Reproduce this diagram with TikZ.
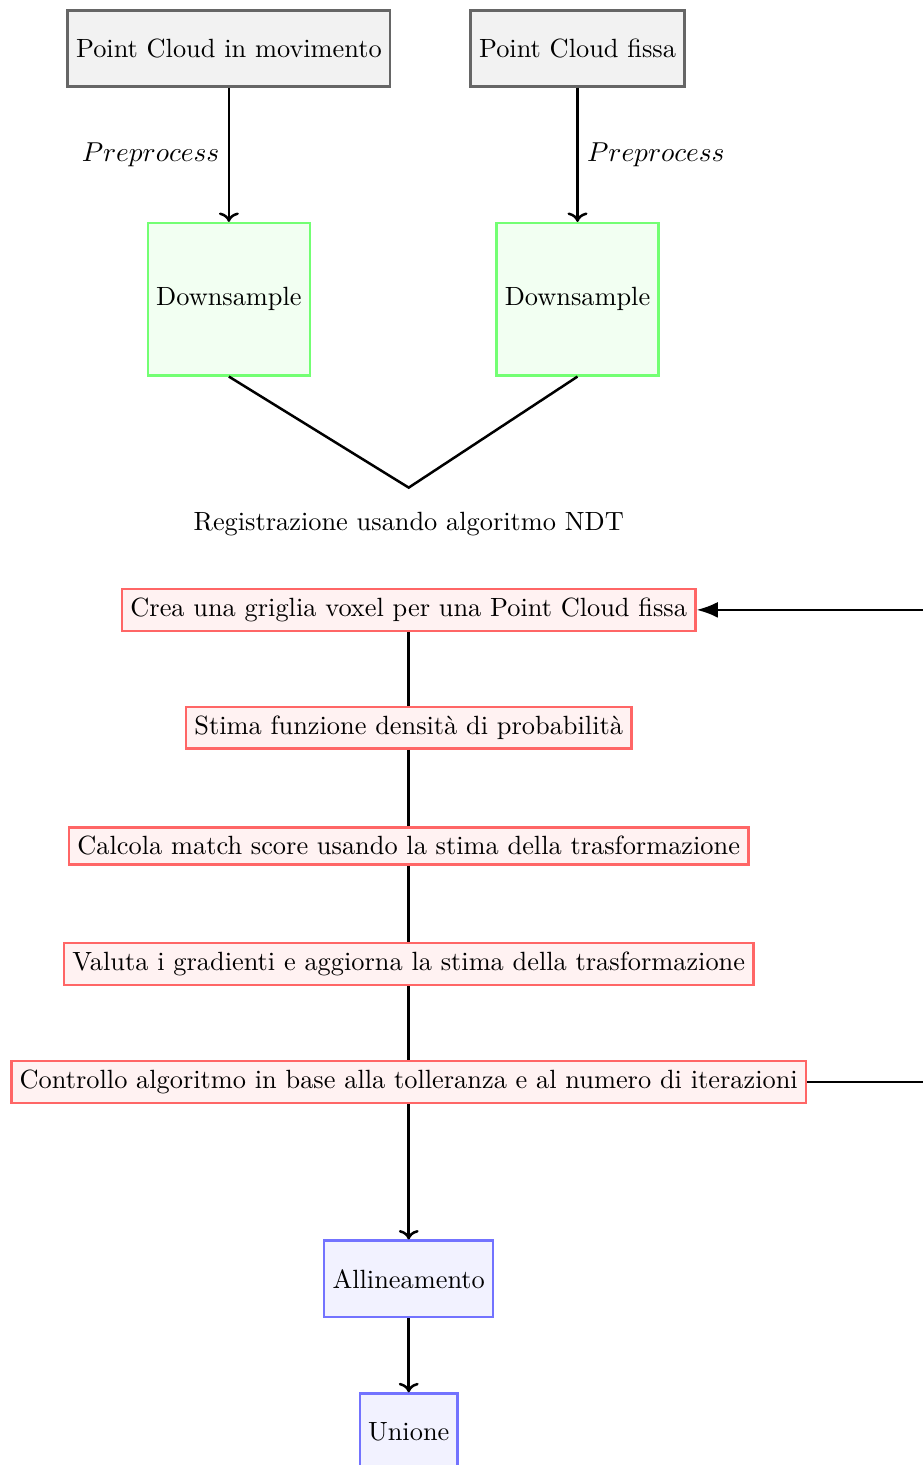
\documentclass[tikz,border=0pt]{standalone}
\usepackage{xcolor}
\usepackage{tikz}
\usetikzlibrary{arrows.meta,positioning}

\begin{document}
\begin{tikzpicture}[node distance=1.66cm, every node/.style={font=\fontsize{10.55}{12.7}\selectfont},
  datobox/.style={draw=black!60,fill=black!5,line width=1pt,rectangle,minimum height=1.07cm},
  campbox/.style={draw=green!55,fill=green!5,line width=1pt,rectangle,minimum height=2.14cm},
  passobox/.style={draw=red!60,fill=red!5,line width=1pt,rectangle,inner ysep=3.6pt},
  finebox/.style={draw=blue!55,fill=blue!5,line width=1pt,rectangle,minimum height=1.07cm},
  freccia/.style={->,line width=1pt}]
\useasboundingbox (-5.75,-12.03) rectangle (7.23,8.58);

\node[datobox] (pcm) at (-2.53,7.9) {Point Cloud in movimento};
\node[datobox,right=1.1cm of pcm] (pcf) {Point Cloud fissa};
\node[campbox,on grid,below=3.53cm of pcm] (ds1) {Downsample};
\node[campbox,on grid,below=3.53cm of pcf] (ds2) {Downsample};

\draw[freccia] (pcm) -- node[midway,left] {$Preprocess$} (ds1);
\draw[freccia] (pcf) -- node[midway,right] {$Preprocess$} (ds2);

\coordinate (reg) at (0,1.72);
\node[below=0.22cm of reg] (regtxt) {Registrazione usando algoritmo NDT};
\draw[line width=1pt] (ds1.south) -- (reg) -- (ds2.south);

\node[passobox] (crea) at (0,0) {Crea una griglia voxel per una Point Cloud fissa};
\node[passobox,on grid,below=of crea] (stima) {Stima funzione densità di probabilità};
\node[passobox,on grid,below=of stima] (calc) {Calcola match score usando la stima della trasformazione};
\node[passobox,on grid,below=of calc] (valuta) {Valuta i gradienti e aggiorna la stima della trasformazione};
\node[passobox,on grid,below=of valuta] (ctrl) {Controllo algoritmo in base alla tolleranza e al numero di iterazioni};
\node[finebox,on grid,below=2.77cm of ctrl] (alli) {Allineamento};
\node[finebox,on grid,below=2.15cm of alli] (unione) {Unione};

\draw[line width=1pt] (crea) -- (stima);
\draw[line width=1pt] (stima) -- (calc);
\draw[line width=1pt] (calc) -- (valuta);
\draw[line width=1pt] (valuta) -- (ctrl);
\draw[freccia] (ctrl) -- (alli);
\draw[freccia] (alli) -- (unione);

% ciclo di iterazione
\draw[-{Latex[length=3mm]},line width=1pt] (ctrl.east) -- ++(2.5,0) |- (crea.east);
\end{tikzpicture}
\end{document}
